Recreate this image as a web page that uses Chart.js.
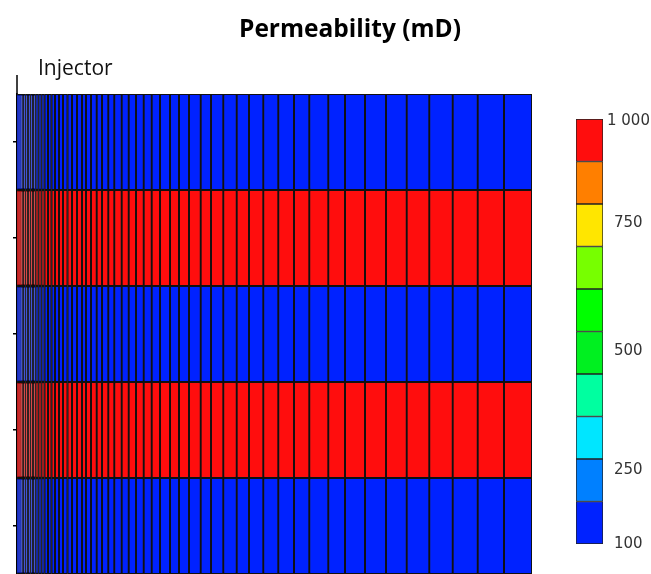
<!DOCTYPE html>
<html>
<head>
<meta charset="utf-8">
<script src="https://cdn.jsdelivr.net/npm/chart.js@4.4.0/dist/chart.umd.min.js"></script>
<style>
  html, body { margin: 0; padding: 0; background: #fff; }
  #wrap { position: relative; width: 651px; height: 574px; overflow: hidden; }
  #gridChart { position: absolute; left: 0; top: 0; }
  #barChart { position: absolute; left: 570px; top: 100px; }
</style>
</head>
<body>
<div id="wrap">
  <canvas id="gridChart" width="651" height="574"></canvas>
  <canvas id="barChart" width="81" height="464"></canvas>
</div>
<script>
// cell edges along the row, from the injector outwards
const colEdges = [0, 0.5, 1.1, 1.7, 2.3, 3, 3.7, 6, 8.5, 11, 13.5, 16, 18.5, 21.5, 24.5, 27.5,
  31, 34.5, 38, 42, 46, 50.5, 55, 60, 65, 69, 74, 79.7, 85, 91.3, 97.3, 104.7, 111.7, 119,
  126.7, 134.7, 143, 153, 162, 172, 183.7, 194, 206.3, 219.7, 232, 246.3, 261.3, 277, 292.3,
  311.3, 328, 348, 369, 389.7, 412.3, 435.7, 460.7, 487, 515];
const layerNames = ['Layer 1', 'Layer 2', 'Layer 3', 'Layer 4', 'Layer 5'];
const layerPerm = [100, 1000, 100, 1000, 100];

// colour bands of the scale, bottom to top
const bandColors = ['#0022ff', '#0080ff', '#00e6ff', '#00ffa0', '#00f020',
  '#00ff00', '#77ff00', '#ffe600', '#ff7f00', '#ff0d0d'];
const cbTickValues = [100, 250, 500, 750, 1000];
const cbTickPos = [0, 1.74, 4.53, 7.56, 9.95];

function colorFor(v) {
  let pos = 0;
  for (let i = 1; i < cbTickValues.length; i++) {
    if (v <= cbTickValues[i]) {
      const t = (v - cbTickValues[i - 1]) / (cbTickValues[i] - cbTickValues[i - 1]);
      pos = cbTickPos[i - 1] + t * (cbTickPos[i] - cbTickPos[i - 1]);
      break;
    }
    pos = cbTickPos[i];
  }
  const band = Math.max(0, Math.min(bandColors.length - 1, Math.floor(pos)));
  return bandColors[band];
}

function fmt(v) {
  return String(v).replace(/\B(?=(\d{3})+(?!\d))/g, ' ');
}

const widths = colEdges.slice(1).map((e, i) => e - colEdges[i]);

const textPlugin = {
  id: 'texts',
  afterDraw(chart) {
    const { ctx, chartArea } = chart;
    ctx.save();
    ctx.fillStyle = '#000';
    ctx.font = 'bold 24.5px "Open Sans"';
    ctx.textAlign = 'center';
    ctx.fillText('Permeability (mD)', 350, 37);
    ctx.font = '21px "Open Sans"';
    ctx.fillStyle = '#111';
    ctx.textAlign = 'left';
    ctx.fillText('Injector', 38, 75);
    // axis line goes a bit above the grid
    ctx.strokeStyle = '#000';
    ctx.lineWidth = 1.5;
    ctx.beginPath();
    ctx.moveTo(chartArea.left, chartArea.top - 19);
    ctx.lineTo(chartArea.left, chartArea.top);
    ctx.stroke();
    ctx.restore();
  }
};

new Chart(document.getElementById('gridChart'), {
  type: 'bar',
  data: {
    labels: layerNames,
    datasets: widths.map(w => ({
      data: layerNames.map(() => w),
      backgroundColor: ctx => colorFor(layerPerm[ctx.dataIndex]),
      borderColor: '#111',
      borderWidth: 1.3,
      borderSkipped: false,
      barPercentage: 1,
      categoryPercentage: 1
    }))
  },
  options: {
    indexAxis: 'y',
    responsive: false,
    animation: false,
    layout: { padding: { top: 94, right: 119, left: 0, bottom: 0 } },
    plugins: { legend: { display: false }, tooltip: { enabled: false } },
    scales: {
      x: { type: 'linear', stacked: true, min: 0, max: colEdges[colEdges.length - 1], display: false },
      y: {
        stacked: true,
        grid: { display: true, drawOnChartArea: false, offset: false, tickLength: 4, color: '#000', lineWidth: 1.5 },
        border: { display: true, color: '#000', width: 1.5 },
        ticks: { display: false },
        afterFit: s => { s.width = 17; }
      }
    }
  },
  plugins: [textPlugin]
});

const labelFont = { family: 'DejaVu Sans', size: 15 };

new Chart(document.getElementById('barChart'), {
  type: 'bar',
  data: {
    labels: [''],
    datasets: bandColors.map(c => ({
      data: [1],
      backgroundColor: c,
      borderColor: '#222',
      borderWidth: 1,
      borderSkipped: false,
      barPercentage: 1,
      categoryPercentage: 1
    }))
  },
  options: {
    responsive: false,
    animation: false,
    layout: { padding: { left: 6, top: 19, bottom: 20, right: 0 } },
    plugins: { legend: { display: false }, tooltip: { enabled: false } },
    scales: {
      x: { stacked: true, display: false },
      y: {
        stacked: true, position: 'right', min: 0, max: 10,
        grid: { display: false, drawTicks: false },
        border: { display: false },
        afterBuildTicks: s => { s.ticks = cbTickPos.slice(0, -1).map(v => ({ value: v })); },
        ticks: { padding: 11, crossAlign: 'near', color: '#333', font: labelFont,
          callback: (v, i) => fmt(cbTickValues[i]) },
        afterFit: s => { s.width = 48; s.paddingTop = 0; s.paddingBottom = 0; }
      },
      // top label sits closer to the bar than the others
      yTop: {
        position: 'left', min: 0, max: 10,
        grid: { display: false, drawTicks: false },
        border: { display: false },
        afterBuildTicks: s => { s.ticks = [{ value: cbTickPos[cbTickPos.length - 1] }]; },
        ticks: { mirror: true, padding: 31, color: '#333', font: labelFont,
          callback: () => fmt(cbTickValues[cbTickValues.length - 1]) },
        afterFit: s => { s.width = 0; s.paddingTop = 0; s.paddingBottom = 0; }
      }
    }
  }
});
</script>
</body>
</html>
